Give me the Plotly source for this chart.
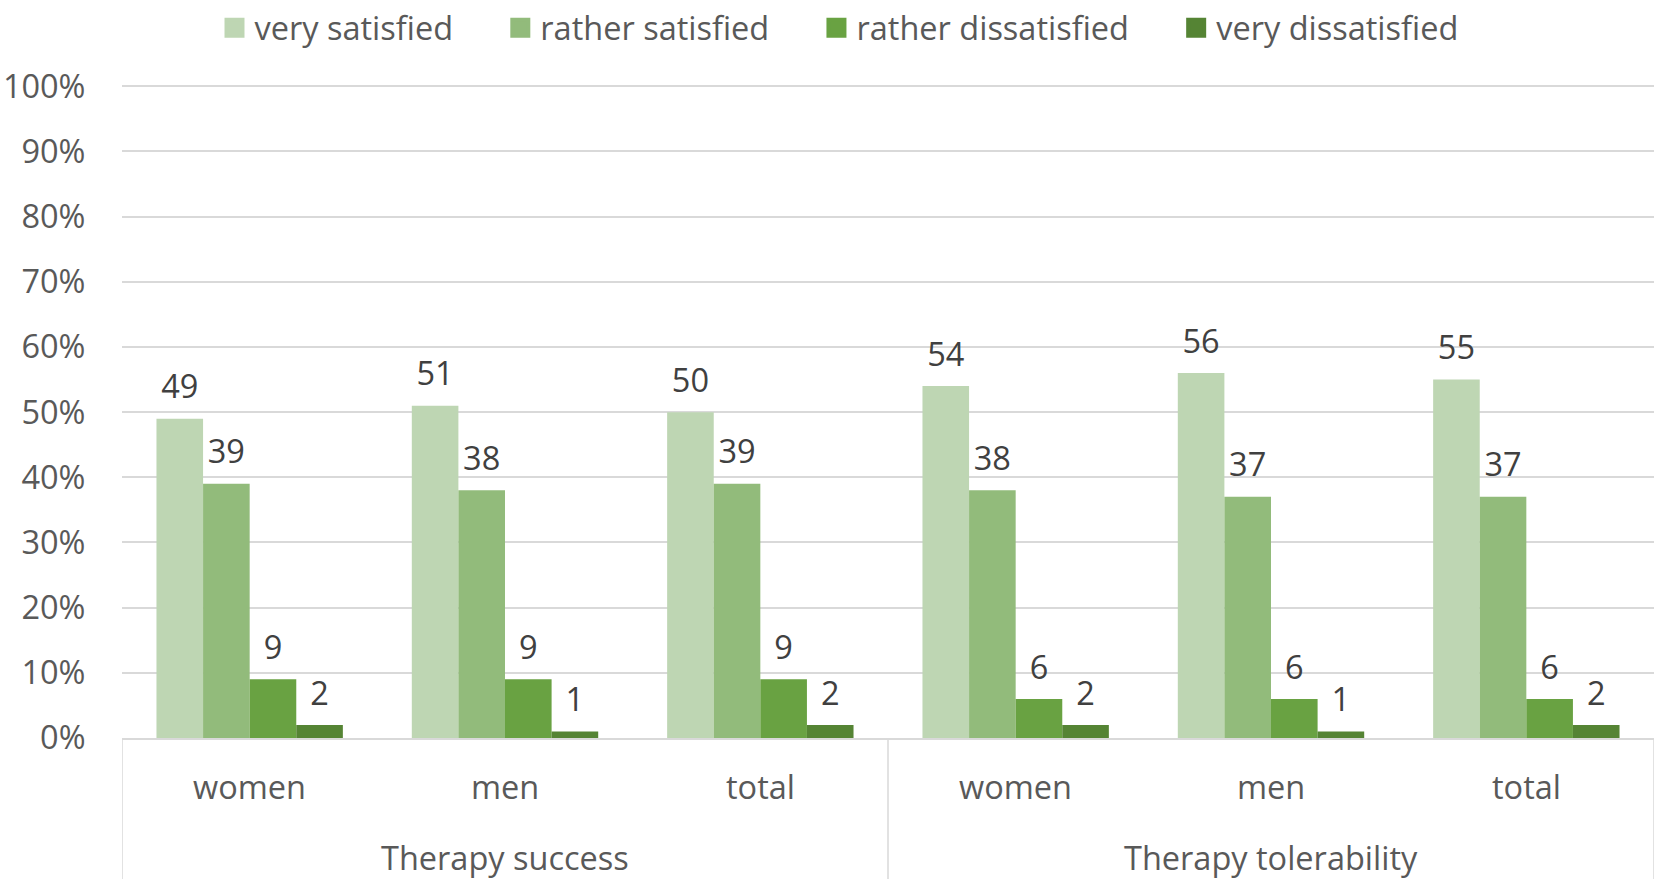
import plotly.graph_objects as go

# Survey results: share of respondents (%) per satisfaction level
groups = ["Therapy success"] * 3 + ["Therapy tolerability"] * 3
subgroups = ["women", "men", "total", "women", "men", "total"]
levels = ["very satisfied", "rather satisfied", "rather dissatisfied", "very dissatisfied"]

very_satisfied = [49, 51, 50, 54, 56, 55]
rather_satisfied = [39, 38, 39, 38, 37, 37]
rather_dissatisfied = [9, 9, 9, 6, 6, 6]
very_dissatisfied = [2, 1, 2, 2, 1, 2]

y_ticks = list(range(0, 101, 10))
y_tick_labels = [f"{v}%" for v in y_ticks]

series = [very_satisfied, rather_satisfied, rather_dissatisfied, very_dissatisfied]
colors = ["#BED6B3", "#92BB7B", "#69A242", "#558434"]

FONT = "Open Sans, sans-serif"
FS = 32.5
GRAY = "#595959"
DARK = "#404040"
GRID = "#D9D9D9"
PAD = "\u00a0" * 5

x_cats = [groups, subgroups]

fig = go.Figure()
for k, (name, vals, col) in enumerate(zip(levels, series, colors)):
    fig.add_trace(go.Bar(
        x=x_cats, y=vals, name=name, marker_color=col, offsetgroup=str(k),
        marker_line_width=0, hoverinfo="skip", showlegend=False,
    ))

# value labels above each bar, grouped to line up with the bars
for k, (name, vals) in enumerate(zip(levels, series)):
    fig.add_trace(go.Scatter(
        x=x_cats, y=vals, mode="markers+text", text=[str(v) for v in vals],
        offsetgroup=str(k),
        textposition="top center", textfont=dict(family=FONT, size=FS, color=DARK),
        marker=dict(size=18, color="rgba(0,0,0,0)"), showlegend=False,
        hoverinfo="skip", cliponaxis=False,
    ))

# legend entries with square swatches
for k, (name, col) in enumerate(zip(levels, colors)):
    fig.add_trace(go.Scatter(
        x=[[groups[0]], [subgroups[0]]], y=[None], mode="markers", name=name + PAD,
        offsetgroup=str(k),
        marker=dict(symbol="square", size=16, color=col, line=dict(color=col, width=4)),
        hoverinfo="skip",
    ))

n_sub = 3
annotations = []
for i, sub in enumerate(subgroups):
    annotations.append(dict(
        x=i, y=-0.075, xref="x", yref="paper", text=sub, showarrow=False,
        yanchor="middle", font=dict(family=FONT, size=FS, color=GRAY),
    ))
outer = list(dict.fromkeys(groups))
for k, g in enumerate(outer):
    annotations.append(dict(
        x=k * n_sub + (n_sub - 1) / 2, y=-0.1825, xref="x", yref="paper", text=g,
        showarrow=False, yanchor="middle", font=dict(family=FONT, size=FS, color=GRAY),
    ))

# divider lines between the outer category groups
shapes = []
for k in range(len(outer) + 1):
    xb = k * n_sub - 0.5
    shapes.append(dict(
        type="line", xref="x", yref="paper", x0=xb, x1=xb, y0=0, y1=-0.25,
        line=dict(color=GRID, width=1.5),
    ))

fig.update_layout(
    width=1658, height=879,
    margin=dict(l=122, r=4, t=85, b=141),
    paper_bgcolor="white", plot_bgcolor="white",
    barmode="group", bargap=0.27, bargroupgap=0,
    scattermode="group", scattergap=0.27,
    font=dict(family=FONT, size=FS, color=GRAY),
    legend=dict(
        orientation="h", xref="container", yref="container",
        x=0.519, xanchor="center", y=1.0, yanchor="top",
        font=dict(family=FONT, size=FS, color=GRAY),
        itemwidth=30, itemsizing="trace", traceorder="normal",
    ),
    xaxis=dict(
        type="multicategory", showticklabels=False, showgrid=False,
        showline=True, linecolor=GRID, linewidth=1.5, ticks="",
        showdividers=False, range=[-0.5, 5.5], automargin=False,
    ),
    yaxis=dict(
        range=[0, 100.2], tickvals=y_ticks, ticktext=y_tick_labels,
        showgrid=True, gridcolor=GRID, gridwidth=1.5, zeroline=False, showline=False,
        ticks="outside", ticklen=29, tickcolor="rgba(0,0,0,0)", automargin=False,
        tickfont=dict(family=FONT, size=FS, color=GRAY),
    ),
    annotations=annotations, shapes=shapes,
)

fig.write_html("out.html")
